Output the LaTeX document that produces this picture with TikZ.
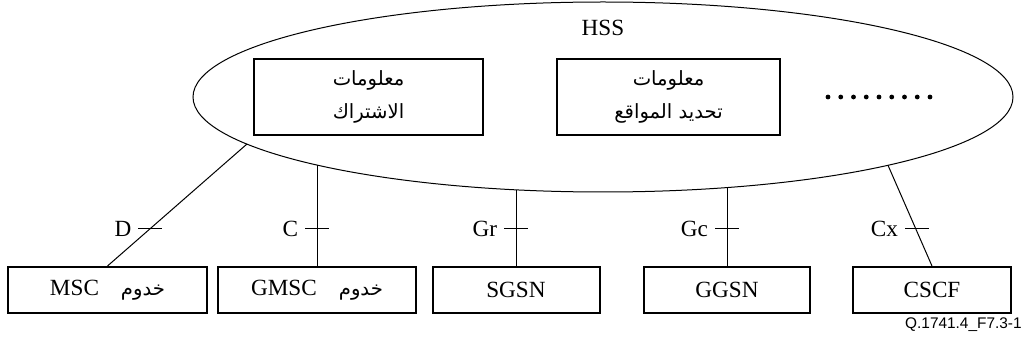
\documentclass[tikz,border=0pt]{standalone}
\usepackage{fontspec}
\setmainfont{Liberation Serif}
\newfontfamily\arabicfont[Script=Arabic]{DejaVu Sans}
\newfontfamily\figfont{Liberation Sans}
\TeXXeTstate=1
\usetikzlibrary{shapes.geometric}
\tikzset{
  every node/.style={font=\fontsize{11.6}{14}\selectfont},
  box/.style={draw, line width=1pt, inner sep=0pt, minimum height=23pt},
  infobox/.style={draw, line width=1pt, inner sep=0pt, minimum height=38pt, align=center,
    font=\arabicfont\fontsize{9.8}{16.5}\selectfont},
  link/.style={line width=0.5pt},
  tickmark/.style={inner sep=0pt, minimum width=11.5pt, minimum height=0pt, label distance=2pt}
}
\newcommand{\artext}[1]{{\arabicfont\fontsize{9.8}{12}\selectfont\beginR #1\endR}}
\begin{document}
\begin{tikzpicture}[x=0.5pt, y=-0.5pt]
\useasboundingbox (0,0) rectangle (1028,347);

% Home subscriber server
\node[draw, ellipse, line width=0.5pt, inner sep=0pt, minimum width=410pt, minimum height=95pt] (hss) at (603,97) {};
\node (hsslabel) at (603,28) {HSS};
\node[infobox, minimum width=114.5pt] (subinfo) at (368.5,97)
  {\beginR معلومات\endR\\\beginR الاشتراك\endR};
\node[infobox, minimum width=111.5pt] (locinfo) at (668.5,97)
  {\beginR معلومات\endR\\\beginR تحديد المواقع\endR};
\foreach \i in {0,...,8}
  \fill (828+12.75*\i,97) circle (1.2pt);

% Network elements
\node[box, minimum width=99.5pt] (msc) at (107.5,290) {MSC\hspace{11pt}\artext{خدوم}};
\node[box, minimum width=99pt] (gmsc) at (317,290) {GMSC\hspace{11pt}\artext{خدوم}};
\node[box, minimum width=83.5pt] (sgsn) at (516,290) {SGSN};
\node[box, minimum width=83pt] (ggsn) at (727,290) {GGSN};
\node[box, minimum width=79pt] (cscf) at (932,290) {CSCF};

% Points where the interfaces leave the HSS
\coordinate (hD) at (247,144);
\coordinate (hC) at (317,165.1);
\coordinate (hGr) at (516,189.8);
\coordinate (hGc) at (727,187.6);
\coordinate (hCx) at (888,165.3);

% Interfaces
\draw[link] (hD) -- (msc.north);
\draw[link] (hC) -- (gmsc.north);
\draw[link] (hGr) -- (sgsn.north);
\draw[link] (hGc) -- (ggsn.north);
\draw[link] (hCx) -- (cscf.north);

% Interface ticks and names
\node[tickmark, label=left:D] (tD) at (150.3,229) {};
\node[tickmark, label=left:C] (tC) at (317,229) {};
\node[tickmark, label=left:Gr] (tGr) at (516,229) {};
\node[tickmark, label=left:Gc] (tGc) at (727,229) {};
\node[tickmark, label=left:Cx] (tCx) at (916.9,229) {};
\foreach \t in {tD,tC,tGr,tGc,tCx}
  \draw[link] (\t.west) -- (\t.east);

\node[anchor=east, inner sep=0pt, font=\figfont\fontsize{7.7}{9}\selectfont] (figid) at (1022,325) {Q.1741.4\_F7.3-1};
\end{tikzpicture}
\end{document}
